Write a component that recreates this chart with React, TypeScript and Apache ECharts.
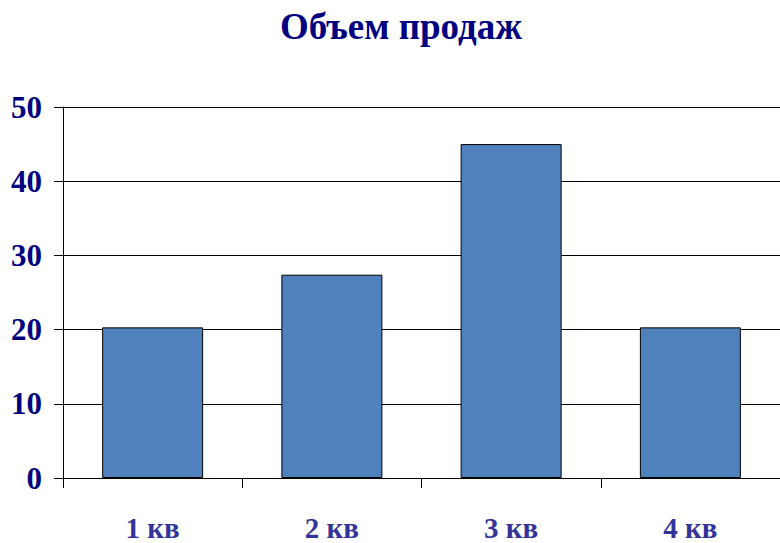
import React, { useEffect, useRef } from "react";
import * as echarts from "echarts";

const categories = ["1 кв", "2 кв", "3 кв", "4 кв"];
const salesValues = [20.3, 27.4, 45, 20.3];
const yTicks = { min: 0, max: 50, interval: 10 };

export default function App() {
  const ref = useRef<HTMLDivElement>(null);
  useEffect(() => {
    if (!ref.current) return;
    const chart = echarts.init(ref.current, null, { renderer: "svg" });
    chart.setOption({
      animation: false,
      backgroundColor: "#ffffff",
      title: {
        text: "Объем продаж",
        left: 396,
        textAlign: "center",
        top: 3,
        textStyle: {
          fontFamily: "Liberation Serif",
          fontWeight: "bold",
          fontSize: 37,
          color: "#000080",
        },
      },
      grid: { left: 63, top: 107, width: 722, height: 371 },
      xAxis: {
        type: "category",
        data: categories,
        axisLine: { show: true, lineStyle: { color: "#000", width: 1 } },
        axisTick: { show: true, length: 10, lineStyle: { color: "#000" } },
        axisLabel: {
          margin: 35,
          fontFamily: "Liberation Serif",
          fontWeight: "bold",
          fontSize: 29,
          color: "#333399",
        },
      },
      yAxis: {
        type: "value",
        min: yTicks.min,
        max: yTicks.max,
        interval: yTicks.interval,
        axisLine: { show: true, lineStyle: { color: "#000", width: 1 } },
        axisTick: { show: true, length: 9, lineStyle: { color: "#000" } },
        splitLine: { show: true, lineStyle: { color: "#000", width: 1 } },
        axisLabel: {
          margin: 21,
          padding: [9, 0, 0, 0],
          fontFamily: "Liberation Serif",
          fontWeight: "bold",
          fontSize: 31,
          color: "#000080",
        },
      },
      series: [
        {
          type: "bar",
          data: salesValues,
          barWidth: 101,
          itemStyle: { color: "#4F81BD", borderColor: "#000", borderWidth: 1 },
        },
      ],
    });
    return () => chart.dispose();
  }, []);
  return (
    <div
      ref={ref}
      style={{ position: "fixed", left: 0, top: 0, width: 780, height: 543, overflow: "hidden" }}
    />
  );
}
